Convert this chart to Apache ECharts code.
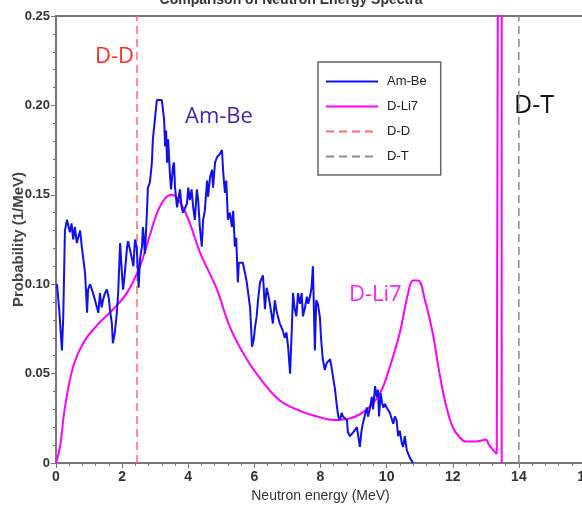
<!DOCTYPE html>
<html>
<head>
<meta charset="utf-8">
<script src="https://cdn.jsdelivr.net/npm/echarts@6/dist/echarts.min.js"></script>
<style>
  html, body { margin: 0; padding: 0; background: #fff; }
  #chart { width: 582px; height: 514px; }
</style>
</head>
<body>
<div id="chart"></div>
<script>
// neutron spectra, [energy MeV, probability 1/MeV]
var amBe = [
  [0.03,0.100],[0.1,0.085],[0.18,0.063],[0.22,0.082],[0.27,0.130],[0.33,0.136],[0.42,0.129],[0.47,0.134],
  [0.52,0.125],[0.57,0.132],[0.63,0.123],[0.67,0.126],[0.73,0.130],[0.78,0.121],[0.82,0.115],[0.88,0.106],
  [0.94,0.084],[0.97,0.097],[1.03,0.100],[1.12,0.095],[1.24,0.087],[1.28,0.084],[1.33,0.095],[1.38,0.087],
  [1.42,0.091],[1.48,0.095],[1.54,0.097],[1.6,0.092],[1.63,0.086],[1.69,0.078],[1.72,0.067],[1.78,0.073],
  [1.84,0.084],[1.88,0.095],[1.94,0.123],[2.0,0.104],[2.03,0.097],[2.08,0.106],[2.15,0.121],[2.18,0.124],
  [2.24,0.123],[2.3,0.114],[2.34,0.110],[2.39,0.125],[2.44,0.121],[2.48,0.106],[2.5,0.098],[2.54,0.114],
  [2.6,0.121],[2.63,0.132],[2.69,0.117],[2.75,0.140],[2.78,0.154],[2.84,0.157],[2.9,0.168],[2.93,0.181],
  [2.99,0.192],[3.05,0.203],[3.1,0.204],[3.2,0.203],[3.24,0.204],[3.27,0.192],[3.3,0.177],[3.33,0.186],
  [3.36,0.168],[3.39,0.181],[3.45,0.160],[3.48,0.153],[3.54,0.166],[3.57,0.168],[3.6,0.154],[3.66,0.143],
  [3.75,0.153],[3.8,0.143],[3.84,0.140],[3.96,0.145],[4.0,0.154],[4.05,0.147],[4.1,0.153],[4.15,0.143],
  [4.2,0.136],[4.26,0.153],[4.3,0.147],[4.35,0.132],[4.41,0.121],[4.45,0.136],[4.5,0.141],[4.57,0.158],
  [4.6,0.149],[4.66,0.160],[4.72,0.164],[4.75,0.154],[4.81,0.168],[4.87,0.171],[4.96,0.173],[5.02,0.175],
  [5.06,0.162],[5.11,0.151],[5.15,0.158],[5.2,0.136],[5.26,0.140],[5.32,0.132],[5.36,0.141],[5.41,0.121],
  [5.45,0.126],[5.5,0.101],[5.53,0.112],[5.65,0.112],[5.72,0.106],[5.77,0.101],[5.87,0.087],[5.93,0.065],
  [5.98,0.069],[6.02,0.076],[6.07,0.082],[6.11,0.091],[6.17,0.101],[6.26,0.105],[6.32,0.086],[6.37,0.098],
  [6.41,0.095],[6.47,0.089],[6.56,0.078],[6.62,0.091],[6.66,0.086],[6.71,0.082],[6.77,0.078],[6.86,0.074],
  [6.92,0.070],[6.97,0.073],[7.02,0.065],[7.08,0.050],[7.13,0.074],[7.17,0.095],[7.22,0.086],[7.27,0.082],
  [7.32,0.095],[7.38,0.089],[7.43,0.095],[7.47,0.082],[7.53,0.087],[7.59,0.093],[7.63,0.089],[7.68,0.093],
  [7.73,0.098],[7.77,0.110],[7.83,0.063],[7.87,0.091],[7.92,0.089],[7.98,0.082],[8.02,0.069],[8.07,0.058],
  [8.13,0.052],[8.19,0.056],[8.29,0.058],[8.33,0.054],[8.38,0.048],[8.44,0.041],[8.5,0.031],[8.54,0.026],
  [8.59,0.024],[8.64,0.028],[8.68,0.026],[8.8,0.024],[8.83,0.017],[8.89,0.015],[8.98,0.017],[9.1,0.020],
  [9.14,0.019],[9.19,0.009],[9.24,0.018],[9.28,0.022],[9.4,0.031],[9.44,0.026],[9.5,0.031],[9.55,0.037],
  [9.59,0.030],[9.65,0.043],[9.7,0.037],[9.74,0.041],[9.77,0.026],[9.82,0.039],[9.86,0.034],[9.9,0.031],
  [9.95,0.033],[10.0,0.031],[10.05,0.031],[10.1,0.028],[10.15,0.029],[10.2,0.022],[10.25,0.026],[10.3,0.024],
  [10.35,0.015],[10.4,0.018],[10.46,0.011],[10.5,0.009],[10.55,0.015],[10.61,0.007],[10.65,0.006],[10.7,0.003],
  [10.8,0.0]
];

var dLi7 = [
  [0,0],[0.12,0.009],[0.27,0.031],[0.52,0.054],[0.82,0.067],[1.24,0.077],[1.73,0.086],[2.14,0.095],
  [2.54,0.110],[2.8,0.125],[3.08,0.141],[3.3,0.148],[3.5,0.150],[3.75,0.146],[4.05,0.134],[4.35,0.118],
  [4.87,0.097],[5.26,0.076],[5.77,0.058],[6.27,0.045],[6.77,0.035],[7.4,0.029],[7.9,0.026],[8.4,0.024],
  [8.9,0.025],[9.4,0.030],[9.8,0.039],[10.1,0.054],[10.4,0.073],[10.65,0.095],[10.8,0.102],[10.95,0.102],
  [11.16,0.091],[11.4,0.072],[11.6,0.050],[11.8,0.032],[12.0,0.020],[12.2,0.0146],[12.4,0.012],[12.7,0.012],
  [13.0,0.013],[13.1,0.010],[13.33,0.005]
];
// narrow D-Li7 line near 13.4 MeV, runs off the top of the plot
var dLi7Spike = [[13.33,0.005],[13.37,0.005],[13.37,0.3],[13.48,0.3],[13.48,0]];

var ddEnergy = 2.45;
var dtEnergy = 14.0;
var yTop = 0.25;

var chart = echarts.init(document.getElementById('chart'));

var option = {
  animation: false,
  backgroundColor: '#fff',
  title: {
    text: 'Comparison of Neutron Energy Spectra',
    left: 'center',
    top: -12,
    textStyle: { fontFamily: 'Liberation Sans', fontSize: 14, fontWeight: 'bold', color: '#333' }
  },
  grid: {
    left: 56, right: -3, top: 16, bottom: 51,
    outerBoundsMode: 'none',
    show: true, borderColor: '#777', borderWidth: 2
  },
  legend: {
    orient: 'vertical',
    left: 318, top: 62,
    data: ['Am-Be', 'D-Li7', 'D-D', 'D-T'],
    itemWidth: 52, itemHeight: 14, itemGap: 12,
    padding: [13, 14, 12, 7],
    borderColor: '#666', borderWidth: 1.5,
    backgroundColor: '#fff',
    itemStyle: { opacity: 0 },
    textStyle: { fontFamily: 'Liberation Sans', fontSize: 13, color: '#222', padding: [0, 0, 0, 4] }
  },
  xAxis: {
    type: 'value',
    min: 0, max: 16, interval: 2,
    name: 'Neutron energy (MeV)',
    nameLocation: 'middle', nameGap: 24,
    nameTextStyle: { fontFamily: 'Liberation Sans', fontSize: 14, color: '#333' },
    axisLine: { lineStyle: { color: '#777', width: 2 } },
    axisTick: { length: 5, lineStyle: { color: '#777' } },
    minorTick: { show: true, splitNumber: 5, length: 3, lineStyle: { color: '#777' } },
    splitLine: { show: false },
    axisLabel: { fontFamily: 'Liberation Sans', fontSize: 14, fontWeight: 'bold', color: '#333', margin: 7 }
  },
  yAxis: {
    type: 'value',
    min: 0, max: yTop, interval: 0.05,
    name: 'Probability (1/MeV)',
    nameLocation: 'middle', nameGap: 30, nameMoveOverlap: false,
    nameTextStyle: { fontFamily: 'Liberation Sans', fontSize: 15, fontWeight: 'bold', color: '#444' },
    axisLine: { show: true, lineStyle: { color: '#777', width: 2 } },
    axisTick: { show: true, length: 5, lineStyle: { color: '#777' } },
    minorTick: { show: true, splitNumber: 5, length: 3, lineStyle: { color: '#777' } },
    splitLine: { show: false },
    axisLabel: {
      fontFamily: 'Liberation Sans', fontSize: 13, fontWeight: 'bold', color: '#333', margin: 6,
      formatter: function (v) { return v === 0 ? '0' : v.toFixed(2); }
    }
  },
  series: [
    {
      name: 'Am-Be', type: 'line', data: amBe, symbol: 'none',
      lineStyle: { color: '#1010ee', width: 2 }, itemStyle: { color: '#1010ee' }, z: 3
    },
    {
      name: 'D-Li7', type: 'line', data: dLi7, symbol: 'none', smooth: 0.4,
      lineStyle: { color: '#ff00ff', width: 2 }, itemStyle: { color: '#ff00ff' }, z: 2
    },
    {
      name: 'D-Li7', type: 'line', data: dLi7Spike, symbol: 'none',
      lineStyle: { color: '#ff00ff', width: 2 }, itemStyle: { color: '#ff00ff' }, z: 2
    },
    {
      name: 'D-D', type: 'line', data: [[ddEnergy, 0], [ddEnergy, yTop]], symbol: 'none',
      lineStyle: { color: '#ff6a6a', width: 1.5, type: [8, 5] }, itemStyle: { color: '#ff6a6a' }, z: 1
    },
    {
      name: 'D-T', type: 'line', data: [[dtEnergy, 0], [dtEnergy, yTop]], symbol: 'none',
      lineStyle: { color: '#8a8a8a', width: 1.5, type: [8, 5] }, itemStyle: { color: '#8a8a8a' }, z: 1
    }
  ],
  graphic: [
    { type: 'text', left: 95, top: 46, style: { text: 'D-D', fill: '#ff2a2a', font: '22px "Open Sans"' } },
    { type: 'text', left: 185, top: 106, style: { text: 'Am-Be', fill: '#4a22b0', font: '22px "Open Sans"' } },
    { type: 'text', left: 349, top: 284, style: { text: 'D-Li7', fill: '#ff22ff', font: '22px "Open Sans"' } },
    { type: 'text', left: 514, top: 93, style: { text: 'D-T', fill: '#111', font: '25px "Open Sans"' } }
  ]
};

chart.setOption(option);
</script>
</body>
</html>
